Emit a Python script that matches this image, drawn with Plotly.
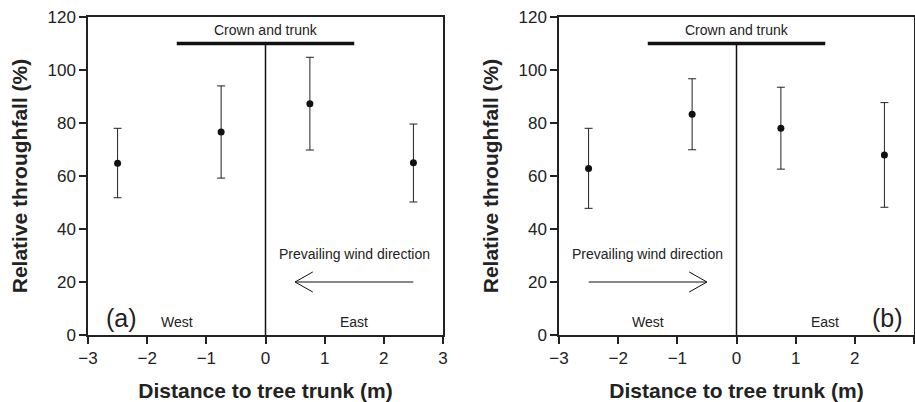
import plotly.graph_objects as go

# ---- data ----
x_pos = [-2.5, -0.75, 0.75, 2.5]
a_mean = [64.8, 76.6, 87.3, 65.0]
a_upper = [78.0, 94.0, 104.8, 79.6]
a_lower = [51.8, 59.2, 69.8, 50.2]
b_mean = [62.8, 83.3, 78.0, 67.9]
b_upper = [78.0, 96.7, 93.5, 87.7]
b_lower = [47.8, 69.9, 62.6, 48.2]

crown_x = [-1.5, 1.5]
crown_y = 110
trunk_x = 0
# wind arrow: (tail_x, tip_x, y)
a_arrow = (2.5, 0.5, 20)
b_arrow = (-2.5, -0.5, 20)
x_ticks = [-3, -2, -1, 0, 1, 2, 3]
y_ticks = [0, 20, 40, 60, 80, 100, 120]

FONT = "Liberation Sans, Arial, sans-serif"
W, H = 915, 402
ydom = [(H - 335) / H, (H - 17) / H]
xdoms = [[88 / W, 443 / W], [559 / W, 914 / W]]

fig = go.Figure()

panels = [
    ("x", "y", a_mean, a_upper, a_lower, a_arrow, "(a)", -2.43),
    ("x2", "y2", b_mean, b_upper, b_lower, b_arrow, "(b)", 2.56),
]

for xa, ya, mean, up, lo, arrow, lab, labx in panels:
    # trunk line
    fig.add_trace(go.Scatter(x=[trunk_x, trunk_x], y=[0, crown_y], mode="lines",
                             line=dict(color="#111", width=1.5), xaxis=xa, yaxis=ya,
                             showlegend=False, hoverinfo="skip"))
    # crown bar
    fig.add_trace(go.Scatter(x=crown_x, y=[crown_y, crown_y], mode="lines",
                             line=dict(color="#111", width=3.5), xaxis=xa, yaxis=ya,
                             showlegend=False, hoverinfo="skip"))
    # data with error bars
    fig.add_trace(go.Scatter(
        x=x_pos, y=mean, mode="markers",
        marker=dict(color="#111", size=7),
        error_y=dict(type="data", symmetric=False,
                     array=[u - m for u, m in zip(up, mean)],
                     arrayminus=[m - l for m, l in zip(mean, lo)],
                     color="#222", thickness=1, width=4),
        xaxis=xa, yaxis=ya, showlegend=False))
    # arrow
    tail, tip, ay = arrow
    d = 1 if tail > tip else -1
    hx = tip + d * 0.3
    fig.add_trace(go.Scatter(x=[tail, tip, None, hx, tip, hx],
                             y=[ay, ay, None, ay + 3.8, ay, ay - 3.8],
                             mode="lines", line=dict(color="#111", width=1),
                             xaxis=xa, yaxis=ya, showlegend=False, hoverinfo="skip"))
    # texts
    fig.add_annotation(x=0, y=crown_y, xref=xa, yref=ya, text="Crown and trunk",
                       showarrow=False, yshift=13, font=dict(size=14, color="#222", family=FONT))
    fig.add_annotation(x=(tail + tip) / 2, y=30.5, xref=xa, yref=ya,
                       text="Prevailing wind direction", showarrow=False,
                       font=dict(size=14, color="#222", family=FONT))
    fig.add_annotation(x=-1.5, y=5, xref=xa, yref=ya, text="West", showarrow=False,
                       font=dict(size=14, color="#222", family=FONT))
    fig.add_annotation(x=1.5, y=5, xref=xa, yref=ya, text="East", showarrow=False,
                       font=dict(size=14, color="#222", family=FONT))
    fig.add_annotation(x=labx, y=6.5, xref=xa, yref=ya, text=lab, showarrow=False,
                       font=dict(size=25, color="#222", family=FONT))

axis_common = dict(showline=True, linecolor="#222", linewidth=1.5, mirror=True,
                   ticks="outside", ticklen=7, tickcolor="#222", tickwidth=1.5,
                   showgrid=False, zeroline=False, automargin=False,
                   tickfont=dict(size=17, color="#222", family=FONT))

for i, (xk, yk) in enumerate([("xaxis", "yaxis"), ("xaxis2", "yaxis2")]):
    yref = "y" if i == 0 else "y2"
    xref = "x" if i == 0 else "x2"
    fig.update_layout({
        xk: dict(axis_common, domain=xdoms[i], range=[-3, 3], tickvals=x_ticks,
                 anchor=yref,
                 title=dict(text="<b>Distance to tree trunk (m)</b>", standoff=18,
                            font=dict(size=21, color="#222", family=FONT))),
        yk: dict(axis_common, domain=ydom, range=[0, 120], tickvals=y_ticks,
                 anchor=xref,
                 title=dict(text="<b>Relative throughfall (%)</b>", standoff=14,
                            font=dict(size=21, color="#222", family=FONT))),
    })

fig.update_layout(width=W, height=H, margin=dict(l=0, r=0, t=0, b=0),
                  paper_bgcolor="white", plot_bgcolor="white")

fig.write_html("out.html")
